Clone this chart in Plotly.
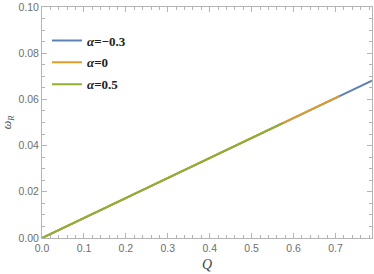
import plotly.graph_objects as go

# Data
q_a1 = [0.0, 0.1, 0.2, 0.3, 0.4, 0.5, 0.6, 0.7, 0.787]
w_a1 = [0.0, 0.00866, 0.01732, 0.02598, 0.03464, 0.0433, 0.05196, 0.06062, 0.0681]
q_a2 = [0.0, 0.1, 0.2, 0.3, 0.4, 0.5, 0.6, 0.709]
w_a2 = [0.0, 0.00866, 0.01732, 0.02598, 0.03464, 0.0433, 0.05196, 0.0614]
q_a3 = [0.0, 0.1, 0.2, 0.3, 0.4, 0.5, 0.574]
w_a3 = [0.0, 0.00866, 0.01732, 0.02598, 0.03464, 0.0433, 0.0497]
labels = ["α=−0.3", "α=0", "α=0.5"]
colors = ["#5E81B5", "#E19C24", "#8FB032"]

fig = go.Figure()
for i, (q, w, lab, c) in enumerate(zip([q_a1, q_a2, q_a3], [w_a1, w_a2, w_a3], labels, colors)):
    name = "<b><i>" + lab[0] + "</i>" + lab[1:] + "</b>"
    fig.add_trace(go.Scatter(x=q, y=w, mode="lines", name=name, legendgroup="g%d" % i,
                             line=dict(color=c, width=2)))

axis_common = dict(
    showline=True, linecolor="#b4b4b4", linewidth=1, mirror="ticks",
    ticks="inside", tickcolor="#b4b4b4", showgrid=False, zeroline=False,
    tickfont=dict(family="Liberation Sans, Arial", size=10.5, color="#6e6e6e"),
)

fig.update_xaxes(range=[0, 0.787], dtick=0.1, tick0=0, tickformat=".1f", ticklen=5,
                 minor=dict(dtick=0.02, ticklen=3, ticks="inside", tickcolor="#b4b4b4"),
                 title=dict(text="<i>Q</i>", font=dict(family="Liberation Serif, Times New Roman", size=14, color="#444"),
                            standoff=6),
                 **axis_common)
fig.update_yaxes(range=[0, 0.1], dtick=0.02, tick0=0, tickformat=".2f", ticklen=5,
                 minor=dict(dtick=0.005, ticklen=3, ticks="inside", tickcolor="#b4b4b4"),
                 title=dict(text="<i>ω<sub>R</sub></i>", font=dict(family="Liberation Serif, Times New Roman", size=12, color="#444"),
                            standoff=4),
                 **axis_common)

fig.update_layout(
    width=374, height=274,
    margin=dict(l=42, r=2, t=7, b=36),
    paper_bgcolor="white", plot_bgcolor="white",
    legend=dict(x=0.015, y=0.92, xanchor="left", yanchor="top", bgcolor="rgba(0,0,0,0)",
                font=dict(family="Liberation Serif, Times New Roman", size=13, color="#222"),
                tracegroupgap=2, itemwidth=30),
)

fig.write_html("out.html", config={"displayModeBar": False},
               post_script="document.body.style.margin='0px';")
